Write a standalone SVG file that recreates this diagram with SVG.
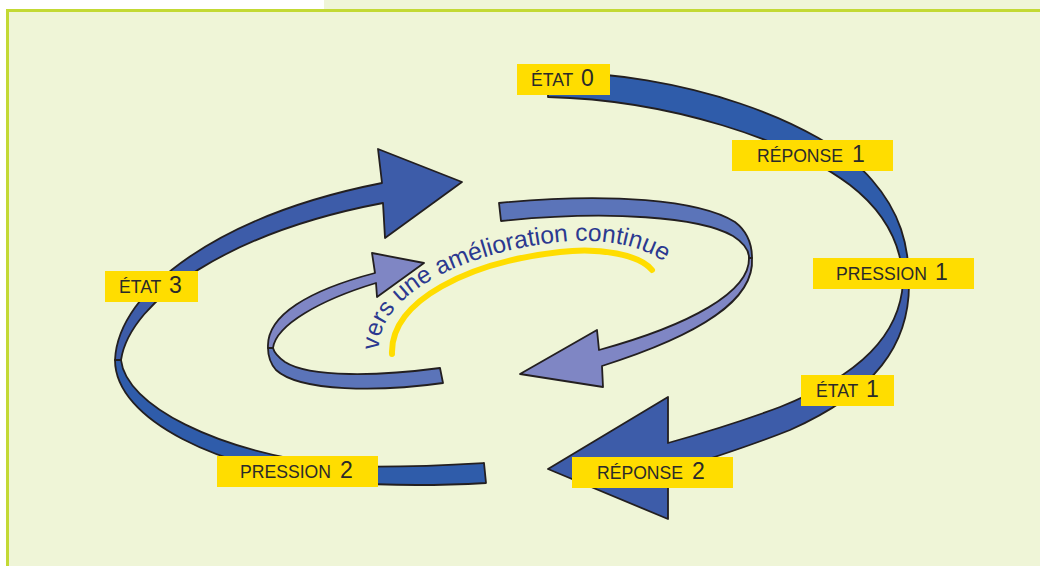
<svg xmlns="http://www.w3.org/2000/svg" xmlns:xlink="http://www.w3.org/1999/xlink" width="1040" height="566" viewBox="0 0 1040 566">
  <style>
    .rib { stroke: #231f20; stroke-width: 1.8; stroke-linejoin: round; }
    .dark { fill: #2f5caa; }
    .darkhead { fill: #3d5ca9; }
    .lav { fill: #5b74b9; }
    .lavhead { fill: #7f86c4; }
    .tag rect { fill: #ffdd00; }
    .tag text { font-family: "Liberation Sans", Arial, sans-serif; fill: #2a2a2a; }
    .w { font-size: 17.6px; }
    .n { font-size: 23px; }
    .curve { font-family: "Liberation Sans", Arial, sans-serif; font-size: 24.6px; fill: #2b3990; }
  </style>
  <defs>
    <path id="arcText" d="M 379,350 C 377,296 462,252 560,242 C 606,237 650,247 672,268"/>
  </defs>

  <!-- page background and frame -->
  <rect x="0" y="0" width="1040" height="566" fill="#ffffff"/>
  <rect x="324" y="0" width="716" height="10" fill="#eff5d7"/>
  <rect x="8" y="11" width="1032" height="555" fill="#eff5d7"/>
  <rect x="6" y="9" width="1034" height="3" fill="#c3d934"/>
  <rect x="6" y="9" width="3" height="557" fill="#c3d934"/>

  <g id="connectors">
    <!-- outer loop: top band from ÉTAT 0 to the right twist -->
    <path class="rib dark" d="M 548,72 C 680,72 820,120 872,180 C 900,212 909,245 909,282 L 903,282 C 902,245 885,212 850,185 C 790,140 670,100 548,97 Z"/>
    <!-- outer loop: right band down to the large left-pointing head -->
    <path class="rib darkhead" d="M 903,282 C 900,335 860,375 780,407 C 740,422 700,434 668,443 L 668,397 L 548,469 L 668,519 L 668,472 C 700,462 750,446 790,430 C 875,392 910,345 909,282 Z"/>
    <!-- outer loop: bottom band from the left twist to its cut end -->
    <path class="rib dark" d="M 115,360 C 115,420 220,470 340,482 C 400,487 450,485 486,483 L 484,463 C 450,465 400,468 340,466 C 215,452 126,405 121,360 Z"/>
    <!-- outer loop: left band rising to the large right-pointing head -->
    <path class="rib darkhead" d="M 115,360 C 118,290 220,215 382,183 L 378,149 L 462,182 L 385,238 L 383,203 C 230,232 130,300 121,360 Z"/>

    <!-- inner loop: top band to the right twist -->
    <path class="rib lav" d="M 499,203 C 610,192 700,200 735,222 C 748,232 752,245 752,258 L 749,258 C 749,250 744,243 733,236 C 700,217 610,210 501,221 Z"/>
    <!-- inner loop: right band down to the left-pointing head -->
    <path class="rib lavhead" d="M 749,258 C 750,292 690,325 599,350 L 597,330 L 520,374 L 603,387 L 602,366 C 700,335 755,300 752,258 Z"/>
    <!-- inner loop: bottom band from its cut end to the left twist -->
    <path class="rib lav" d="M 443,383 C 380,392 300,392 276,370 C 270,363 268,355 268,348 L 273,348 C 274,352 278,357 285,362 C 310,378 380,376 440,368 Z"/>
    <!-- inner loop: left band rising to the right-pointing head -->
    <path class="rib lavhead" d="M 268,348 C 266,315 310,290 375,273 L 372,253 L 424,263 L 377,297 L 376,283 C 320,300 276,325 273,348 Z"/>
  </g>

  <g id="motto">
    <path d="M 392,354 C 390,300 470,262 560,252 C 600,247 640,255 652,270" fill="none" stroke="#ffdd00" stroke-width="6" stroke-linecap="round"/>
    <text class="curve"><textPath xlink:href="#arcText" href="#arcText">vers une amélioration continue</textPath></text>
  </g>

  <g id="etat0" class="tag">
    <rect x="517" y="64" width="93" height="31"/>
    <text y="86"><tspan class="w" x="531">ÉTAT</tspan><tspan class="n" x="581">0</tspan></text>
  </g>
  <g id="reponse1" class="tag">
    <rect x="732" y="140" width="161" height="31"/>
    <text y="162"><tspan class="w" x="757">RÉPONSE</tspan><tspan class="n" x="852">1</tspan></text>
  </g>
  <g id="pression1" class="tag">
    <rect x="813" y="258" width="161" height="31"/>
    <text y="280"><tspan class="w" x="836">PRESSION</tspan><tspan class="n" x="935">1</tspan></text>
  </g>
  <g id="etat1" class="tag">
    <rect x="801" y="375" width="93" height="31"/>
    <text y="397"><tspan class="w" x="816">ÉTAT</tspan><tspan class="n" x="866">1</tspan></text>
  </g>
  <g id="reponse2" class="tag">
    <rect x="572" y="457" width="161" height="31"/>
    <text y="479"><tspan class="w" x="597">RÉPONSE</tspan><tspan class="n" x="692">2</tspan></text>
  </g>
  <g id="pression2" class="tag">
    <rect x="217" y="456" width="161" height="31"/>
    <text y="478"><tspan class="w" x="240">PRESSION</tspan><tspan class="n" x="340">2</tspan></text>
  </g>
  <g id="etat3" class="tag">
    <rect x="105" y="271" width="93" height="31"/>
    <text y="293"><tspan class="w" x="119">ÉTAT</tspan><tspan class="n" x="169">3</tspan></text>
  </g>
</svg>
